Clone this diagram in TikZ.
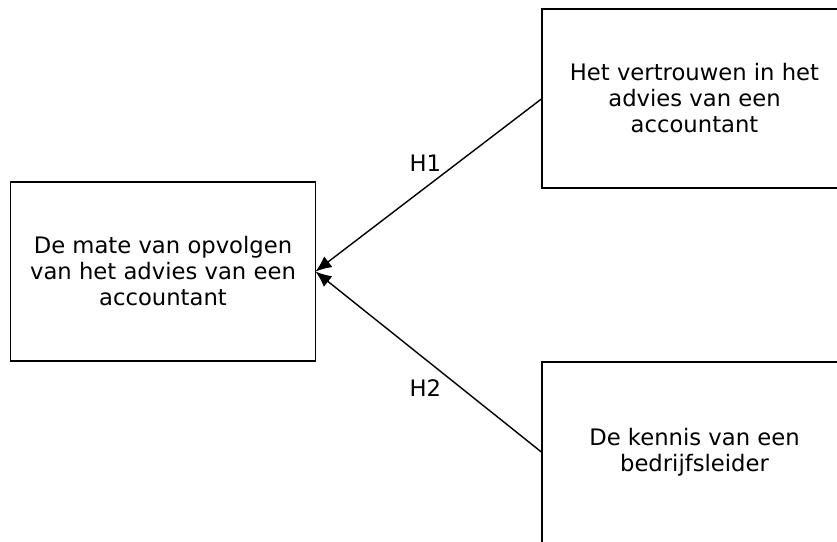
\documentclass[tikz,border=0pt]{standalone}
\usepackage{fontspec}
\setmainfont{DejaVu Sans}
\usetikzlibrary{positioning,arrows.meta}

\begin{document}
\begin{tikzpicture}[x=1pt,y=-1pt]
  \tikzset{BoxStyle/.style = {
    shape         = rectangle,
    draw          = black,
    fill          = white,
    line width    = 1.5pt,
    text          = black,
    align         = center,
    inner sep     = 0pt,
    outer sep     = 0pt,
    minimum width = 305pt,
    minimum height= 179pt,
    font          = \fontsize{22.7}{26}\selectfont
    }
  }
  \tikzset{ArrowStyle/.style = {
    draw          = black,
    line width    = 1.4pt,
    arrows        = {-Latex[length=16pt,width=13.5pt]}
    }
  }
  \tikzset{HypStyle/.style = {
    text          = black,
    inner sep     = 0pt,
    font          = \fontsize{22.7}{26}\selectfont
    }
  }

  \useasboundingbox (0,0) rectangle (837,541);
  \clip (0,0) rectangle (837,541);

	\node[BoxStyle](opvolgen) at (163, 271.5) {De mate van opvolgen\\van het advies van een\\accountant};
	\node[BoxStyle](vertrouwen) at (694.5, 98.5) {Het vertrouwen in het\\advies van een\\accountant};
	\node[BoxStyle, minimum height=181pt](kennis) at (694.5, 452.5) {De kennis van een\\bedrijfsleider};

	\draw[ArrowStyle](vertrouwen.west) to node[HypStyle, above left=13pt and -13pt]{H1} (opvolgen.east);
	\draw[ArrowStyle](kennis.west) to node[HypStyle, below left=17pt and -13pt]{H2} (opvolgen.east);

  \end{tikzpicture}
\end{document}
